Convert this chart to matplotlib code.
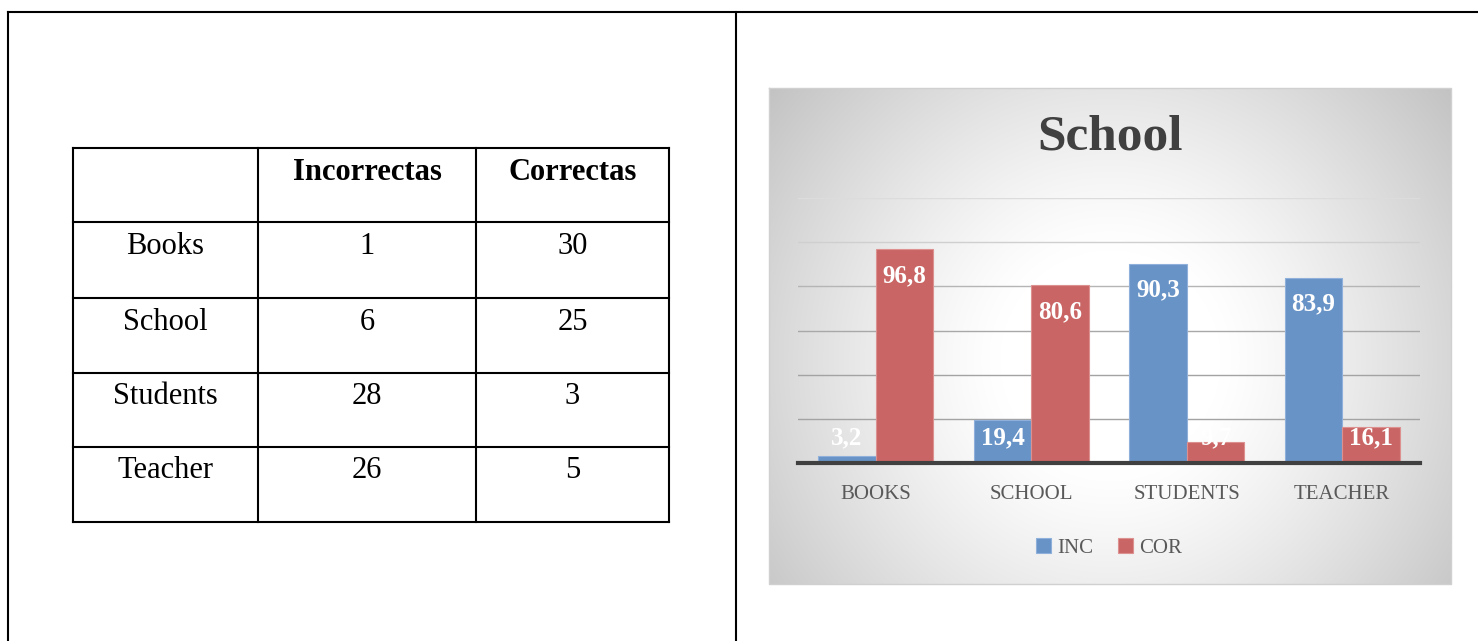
import matplotlib.pyplot as plt
import numpy as np

# Datos de la tabla
palabras = ["Books", "School", "Students", "Teacher"]
incorrectas = [1, 6, 28, 26]
correctas = [30, 25, 3, 5]
encabezados = ["", "Incorrectas", "Correctas"]

# Datos del gráfico (porcentajes)
categorias = ["BOOKS", "SCHOOL", "STUDENTS", "TEACHER"]
inc_pct = [3.2, 19.4, 90.3, 83.9]
cor_pct = [96.8, 80.6, 9.7, 16.1]

BLUE = "#6893C7"
RED = "#C96665"
SERIF = "Liberation Serif"

W, H = 1478, 641
fig = plt.figure(figsize=(W / 100, H / 100), dpi=100)

# ── Capa de fondo en coordenadas de píxel
bg = fig.add_axes([0, 0, 1, 1])
bg.axis("off")

# marco de la tabla de Word
bg.plot([8, W], [12, 12], color="black", lw=1.5)
bg.plot([8, 8], [12, H], color="black", lw=1.5)
bg.plot([736, 736], [12, H], color="black", lw=1.5)

# tabla izquierda
xs = [73, 258, 476, 669]
ys = [148, 222, 298, 373, 447, 522]
for y in ys:
    bg.plot([xs[0], xs[-1]], [y, y], color="black", lw=1.5)
for x in xs:
    bg.plot([x, x], [ys[0], ys[-1]], color="black", lw=1.5)

col_cx = [(xs[i] + xs[i + 1]) / 2 for i in range(3)]
for j, h in enumerate(encabezados):
    bg.text(col_cx[j], ys[0] + 24, h, ha="center", va="center",
            fontsize=22, fontweight="bold", family=SERIF)
for i, (p, a, b) in enumerate(zip(palabras, incorrectas, correctas)):
    yc = ys[i + 1] + 24
    for j, t in enumerate([p, str(a), str(b)]):
        bg.text(col_cx[j], yc, t, ha="center", va="center",
                fontsize=22, family=SERIF)

# ── Fondo del gráfico con degradado radial
x0, x1, y0, y1 = 769, 1451, 88, 584
gx, gy = np.meshgrid(np.arange(x0, x1), np.arange(y0, y1))
r = np.hypot(gx - 1110, gy - 360) / 440
rr = np.clip((r - 0.25) / 0.75, 0, 1)
val = 1 - 0.24 * rr ** 1.2
bg.imshow(np.dstack([val, val, val]), extent=(x0, x1, y1, y0),
          aspect="auto", zorder=1)
bg.plot([x0, x1, x1, x0, x0], [y0, y0, y1, y1, y0], color="#D0D0D0",
        lw=1, zorder=2)
bg.set_xlim(0, W)
bg.set_ylim(H, 0)

bg.text(1110, 138, "School", ha="center", va="center", fontsize=37,
        fontweight="bold", color="#404040", family=SERIF, zorder=3)

# ── Gráfico de barras
ax = fig.add_axes([798 / W, 1 - 463 / H, 622 / W, 265 / H])
ax.set_facecolor("none")
x = np.arange(len(categorias))
bw = 0.37
b1 = ax.bar(x - bw / 2, inc_pct, bw, color=BLUE, edgecolor="#8FB0DA",
            lw=0.8, label="INC", zorder=3)
b2 = ax.bar(x + bw / 2, cor_pct, bw, color=RED, edgecolor="#DC9190",
            lw=0.8, label="COR", zorder=3)

for bars, vals in [(b1, inc_pct), (b2, cor_pct)]:
    for bar, v in zip(bars, vals):
        yl = max(v - 12, 11.4)
        ax.text(bar.get_x() + bar.get_width() / 2, yl,
                f"{v:.1f}".replace(".", ","), ha="center", va="center",
                color="white", fontsize=18, fontweight="bold",
                family=SERIF, zorder=4)

ax.set_xlim(-0.5, 3.5)
ax.set_ylim(0, 120)
ax.set_yticks(np.arange(20, 121, 20))
ax.yaxis.grid(True, lw=1, zorder=0)
grid_cols = ["#A3A3A3", "#A3A3A3", "#A8A8A8", "#B5B5B5", "#CFCFCF", "#DCDCDC"]
for gl, c in zip(ax.get_ygridlines(), grid_cols):
    gl.set_color(c)
ax.tick_params(axis="y", left=False, labelleft=False)
ax.set_xticks(x)
ax.set_xticklabels(categorias, fontsize=15, color="#595959", family=SERIF)
ax.tick_params(axis="x", length=0, pad=16)
for s in ["top", "right", "left"]:
    ax.spines[s].set_visible(False)
ax.spines["bottom"].set_color("#404040")
ax.spines["bottom"].set_linewidth(3)
ax.spines["bottom"].set_zorder(5)

leg = ax.legend(loc="center", bbox_to_anchor=(0.5, -0.32), ncol=2,
                frameon=False, handlelength=0.7, handleheight=0.7,
                handletextpad=0.3, columnspacing=1.2,
                prop={"family": SERIF, "size": 15})
for t in leg.get_texts():
    t.set_color("#595959")

plt.savefig("out.png", dpi=100)
